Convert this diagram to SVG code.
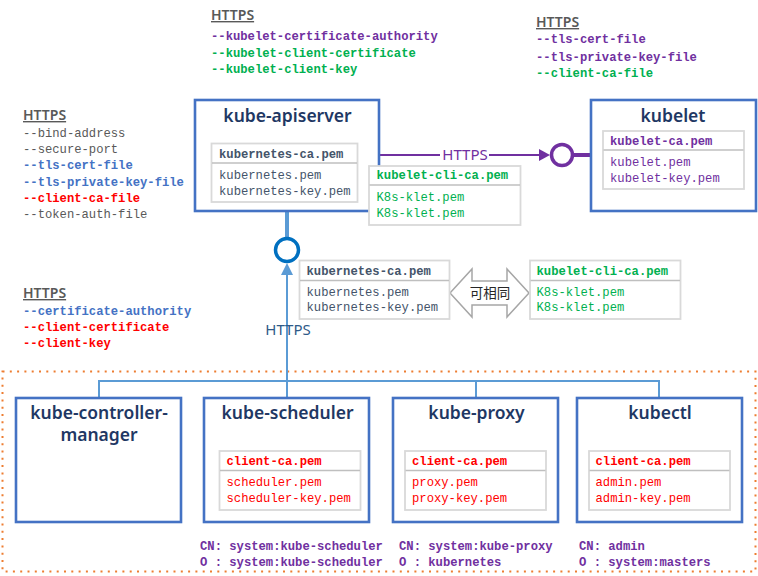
<svg xmlns="http://www.w3.org/2000/svg" width="758" height="576" viewBox="0 0 758 576">
<defs>
<style>
.box{fill:#fff;stroke:#4472C4;stroke-width:2.6}
.tbl{fill:#fff;stroke:#D9D9D9;stroke-width:1.8}
.div{stroke:#BFBFBF;stroke-width:1.3}
.title{font-family:"Noto Sans","Open Sans",sans-serif;font-size:17.5px;font-weight:600;fill:#1F3864;text-anchor:middle}
.m{font-family:"Liberation Mono","DejaVu Sans Mono",monospace;font-size:12.2px}
.b{font-weight:bold}
.hd{font-family:"Noto Sans","Open Sans",sans-serif;font-size:14px;font-weight:600;fill:#595959;text-decoration:underline}
.gray{fill:#595959}
.blue{fill:#4472C4}
.red{fill:#FF0000}
.green{fill:#00B050}
.purple{fill:#7030A0}
.slate{fill:#44546A}
.bus{stroke:#5B9BD5;stroke-width:2;fill:none}
</style>
</defs>

<g id="frame">
<rect x="2.5" y="371.5" width="753" height="200" fill="none" stroke="#ED7D31" stroke-width="2" stroke-dasharray="2 5.3"/>
</g>

<g id="connectors">
<line x1="380" y1="155" x2="440" y2="155" stroke="#7030A0" stroke-width="2"/>
<line x1="489" y1="155" x2="541" y2="155" stroke="#7030A0" stroke-width="2"/>
<polygon points="550,155 539,149 539,161" fill="#7030A0"/>
<circle cx="562" cy="155" r="10.5" fill="#fff" stroke="#7030A0" stroke-width="3.5"/>
<line x1="573" y1="155" x2="592" y2="155" stroke="#7030A0" stroke-width="4"/>
<text x="465" y="160" font-family="Noto Sans,sans-serif" font-size="15" fill="#7030A0" text-anchor="middle">HTTPS</text>

<line x1="287" y1="211" x2="287" y2="239" stroke="#5B9BD5" stroke-width="4"/>
<circle cx="287" cy="250" r="11.5" fill="#fff" stroke="#0070C0" stroke-width="3.5"/>
<polygon points="287,263 281,275 293,275" fill="#5B9BD5"/>
<line x1="287" y1="274" x2="287" y2="398" class="bus"/>
<polyline points="99,398 99,381 659,381 659,398" class="bus"/>
<line x1="476" y1="381" x2="476" y2="398" class="bus"/>
<text x="288" y="335" font-family="Noto Sans,sans-serif" font-size="15" fill="#2E5A88" text-anchor="middle">HTTPS</text>

<polygon points="450,293 472,269 472,281 507,281 507,269 529,293 507,317 507,305 472,305 472,317" fill="#fff" stroke="#A6A6A6" stroke-width="1.5"/>
<text x="490" y="298" font-family="Noto Sans CJK SC,sans-serif" font-size="13.5" fill="#262626" text-anchor="middle">可相同</text>
</g>

<g id="https-top">
<text x="211" y="20" class="hd">HTTPS</text>
<text x="211" y="40" class="m b purple">--kubelet-certificate-authority</text>
<text x="211" y="57" class="m b green">--kubelet-client-certificate</text>
<text x="211" y="73" class="m b green">--kubelet-client-key</text>
</g>

<g id="https-kubelet">
<text x="536" y="27" class="hd">HTTPS</text>
<text x="536" y="43" class="m b purple">--tls-cert-file</text>
<text x="536" y="61" class="m b purple">--tls-private-key-file</text>
<text x="536" y="77" class="m b green">--client-ca-file</text>
</g>

<g id="https-left">
<text x="23" y="120" class="hd">HTTPS</text>
<text x="23" y="137" class="m gray">--bind-address</text>
<text x="23" y="153" class="m gray">--secure-port</text>
<text x="23" y="169" class="m b blue">--tls-cert-file</text>
<text x="23" y="186" class="m b blue">--tls-private-key-file</text>
<text x="23" y="202" class="m b red">--client-ca-file</text>
<text x="23" y="218" class="m gray">--token-auth-file</text>
</g>

<g id="https-client">
<text x="23" y="298" class="hd">HTTPS</text>
<text x="23" y="315" class="m b blue">--certificate-authority</text>
<text x="23" y="331" class="m b red">--client-certificate</text>
<text x="23" y="347" class="m b red">--client-key</text>
</g>

<g id="kube-apiserver">
<rect x="195" y="100" width="184" height="111" class="box"/>
<text x="287.5" y="122" class="title">kube-apiserver</text>
<rect x="211.5" y="143.5" width="146" height="58.5" class="tbl"/>
<line x1="212" y1="163" x2="357" y2="163" class="div"/>
<text x="219" y="157.5" class="m b slate">kubernetes-ca.pem</text>
<text x="219" y="179" class="m slate">kubernetes.pem</text>
<text x="219" y="195" class="m slate">kubernetes-key.pem</text>
</g>

<g id="kubelet-cli-ca">
<rect x="369" y="166" width="151.5" height="59" class="tbl"/>
<line x1="369.5" y1="185" x2="520" y2="185" class="div"/>
<text x="376.5" y="179" class="m b green">kubelet-cli-ca.pem</text>
<text x="376.5" y="201" class="m green">K8s-klet.pem</text>
<text x="376.5" y="216.5" class="m green">K8s-klet.pem</text>
</g>

<g id="kubelet">
<rect x="591" y="100" width="165" height="111" class="box"/>
<text x="673" y="122" class="title">kubelet</text>
<rect x="603" y="131" width="141" height="58" class="tbl"/>
<line x1="603.5" y1="150" x2="743.5" y2="150" class="div"/>
<text x="610" y="144.5" class="m b purple">kubelet-ca.pem</text>
<text x="610" y="166" class="m purple">kubelet.pem</text>
<text x="610" y="182" class="m purple">kubelet-key.pem</text>
</g>

<g id="kubernetes-ca">
<rect x="299.5" y="260.5" width="150" height="58.5" class="tbl"/>
<line x1="300" y1="280.5" x2="449" y2="280.5" class="div"/>
<text x="306.5" y="274.5" class="m b slate">kubernetes-ca.pem</text>
<text x="306.5" y="295.5" class="m slate">kubernetes.pem</text>
<text x="306.5" y="311" class="m slate">kubernetes-key.pem</text>
</g>

<g id="kubelet-cli-ca-2">
<rect x="530" y="260.5" width="150.5" height="58.5" class="tbl"/>
<line x1="530.5" y1="280.5" x2="680" y2="280.5" class="div"/>
<text x="536.5" y="274.5" class="m b green">kubelet-cli-ca.pem</text>
<text x="536.5" y="295.5" class="m green">K8s-klet.pem</text>
<text x="536.5" y="311" class="m green">K8s-klet.pem</text>
</g>

<g id="kube-controller-manager">
<rect x="16" y="398" width="165" height="124" class="box"/>
<text x="99" y="419" class="title">kube-controller-</text>
<text x="99" y="441" class="title">manager</text>
</g>

<g id="kube-scheduler">
<rect x="204" y="398" width="165" height="124" class="box"/>
<text x="287.5" y="419" class="title">kube-scheduler</text>
<rect x="219.5" y="451" width="141" height="59" class="tbl"/>
<line x1="220" y1="470.5" x2="360" y2="470.5" class="div"/>
<text x="226.5" y="464.5" class="m b red">client-ca.pem</text>
<text x="226.5" y="486" class="m red">scheduler.pem</text>
<text x="226.5" y="501.5" class="m red">scheduler-key.pem</text>
<text x="200" y="550" class="m b purple">CN: system:kube-scheduler</text>
<text x="200" y="566" class="m b purple">O : system:kube-scheduler</text>
</g>

<g id="kube-proxy">
<rect x="393" y="398" width="165" height="124" class="box"/>
<text x="476.5" y="419" class="title">kube-proxy</text>
<rect x="405" y="451" width="141" height="59" class="tbl"/>
<line x1="405.5" y1="470.5" x2="545.5" y2="470.5" class="div"/>
<text x="412" y="464.5" class="m b red">client-ca.pem</text>
<text x="412" y="486" class="m red">proxy.pem</text>
<text x="412" y="501.5" class="m red">proxy-key.pem</text>
<text x="399" y="550" class="m b purple">CN: system:kube-proxy</text>
<text x="399" y="566" class="m b purple">O : kubernetes</text>
</g>

<g id="kubectl">
<rect x="577" y="398" width="165" height="124" class="box"/>
<text x="660" y="419" class="title">kubectl</text>
<rect x="589" y="451" width="141" height="59" class="tbl"/>
<line x1="589.5" y1="470.5" x2="729.5" y2="470.5" class="div"/>
<text x="595.5" y="464.5" class="m b red">client-ca.pem</text>
<text x="595.5" y="486" class="m red">admin.pem</text>
<text x="595.5" y="501.5" class="m red">admin-key.pem</text>
<text x="579" y="550" class="m b purple">CN: admin</text>
<text x="579" y="566" class="m b purple">O : system:masters</text>
</g>
</svg>
